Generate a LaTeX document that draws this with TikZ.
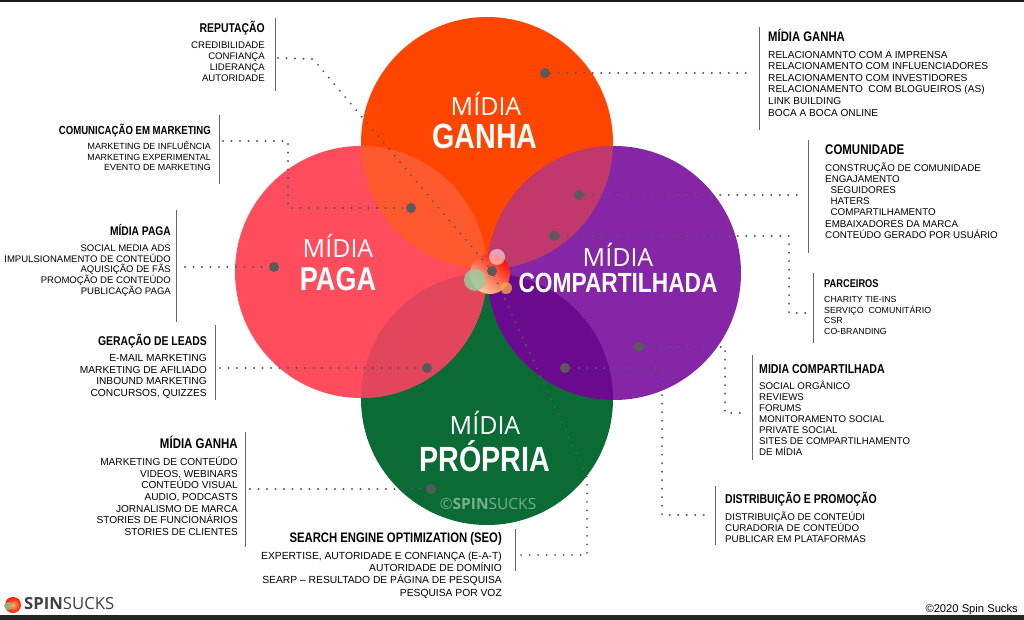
\documentclass[tikz,border=0pt]{standalone}
\usepackage{fontspec}
\setmainfont{Liberation Sans}
\newfontfamily\headfont[FakeStretch=0.82]{Liberation Sans}
\newfontfamily\bigfont{Open Sans}
\usepackage{tikz}
\usetikzlibrary{calc}
\definecolor{ganhacol}{HTML}{FF4500}
\definecolor{pagacol}{HTML}{FF4D5E}
\definecolor{compcol}{HTML}{8526A6}
\definecolor{propcol}{HTML}{0B6B35}
\definecolor{dotcol}{HTML}{5A5A5A}
\definecolor{gapacol}{HTML}{FF5A2D}
\definecolor{ppcol}{HTML}{E2465C}
\definecolor{gccol}{HTML}{C1386C}
\definecolor{cpcol}{HTML}{6A0A8E}
\newcommand{\leader}[1]{\draw[dotline] #1;}
\newcommand{\sidebar}[2]{\draw[barline] (#1) -- (#2);}
\newcommand{\hd}[2]{{\headfont\bfseries\fontsize{#1}{#1}\selectfont #2}}
\tikzset{
	dotline/.style={line width=2.1pt,line cap=round,dotcol,dash pattern=on 0pt off 8.5pt},
	barline/.style={line width=1pt,gray!80!black},
	hub/.style={circle,fill=dotcol,inner sep=0pt,minimum size=10pt},
	lefttext/.style 2 args={anchor=north east,align=right,inner sep=0pt,font=\fontsize{#1}{#2}\selectfont},
	righttext/.style 2 args={anchor=north west,align=left,inner sep=0pt,font=\fontsize{#1}{#2}\selectfont},
	thin word/.style={white,font=\bigfont\fontsize{25}{25}\selectfont},
	fat word/.style={white,font=\headfont\bfseries\fontsize{#1}{#1}\selectfont}
}
\begin{document}
\begin{tikzpicture}[x=1pt,y=-1pt]
	\useasboundingbox (0,0) rectangle (1024,620);
	\fill[white] (0,0) rectangle (1024,620);
	\fill[black!90] (0,0) rectangle (1024,2);
	\fill[black!85] (0,615) rectangle (1024,620);
	% circles
	\fill[propcol] (487,399) circle (126);
	\fill[ganhacol] (487,143) circle (126);
	\fill[pagacol] (361,272) circle (126);
	\fill[compcol] (614,273) circle (127);
	\begin{scope}
		\clip (361,272) circle (126);
		\fill[gapacol] (487,143) circle (126);
		\fill[ppcol] (487,399) circle (126);
	\end{scope}
	\begin{scope}
		\clip (614,273) circle (127);
		\fill[gccol] (487,143) circle (126);
		\fill[cpcol] (487,399) circle (126);
	\end{scope}
	% middle
	\shade[top color=red!90!orange,bottom color=orange!35!white,shading angle=-40] (490,274) circle (20);
	\fill[white,opacity=.55] (497,257) circle (8);
	\fill[orange!70!white,opacity=.8] (506,288) circle (6);
	\fill[green!30!gray!60!white,opacity=.85] (475,280) circle (11);
	% hubs
	\node[hub](hubrep) at (492,271) {};
	\node[hub](hubganha) at (545,73) {};
	\node[hub](hubcom) at (411,208) {};
	\node[hub](hubpaga) at (274,267) {};
	\node[hub](hubleads) at (427,368) {};
	\node[hub](hubprop) at (431,489) {};
	\node[hub](hubcomu) at (579,195) {};
	\node[hub](hubparc) at (554,236) {};
	\node[hub](hubmc) at (639,347) {};
	\node[hub](hubdist) at (565,368) {};
	% leaders
	\coordinate (rep) at (278,58);
	\coordinate (com) at (223,141);
	\coordinate (paga) at (185,267);
	\coordinate (leads) at (220,368);
	\coordinate (prop) at (250,489);
	\coordinate (seo) at (520,555);
	\coordinate (ganha) at (752,73);
	\coordinate (comu) at (802,195);
	\coordinate (parc) at (809,313);
	\coordinate (mc) at (748,413);
	\coordinate (dist) at (706,515);
	\leader{(rep) -- (313,59) -- (hubrep)}
	\leader{(com) -- (288,141) -- (288,208) -- (hubcom)}
	\leader{(paga) -- (hubpaga)}
	\leader{(leads) -- (hubleads)}
	\leader{(prop) -- (hubprop)}
	\leader{(hubrep) -- (587,477) -- (587,555) -- (seo)}
	\leader{(hubganha) -- (ganha)}
	\leader{(hubcomu) -- (comu)}
	\leader{(hubparc) -- (789,236) -- (789,313) -- (parc)}
	\leader{(hubmc) -- (725,347) -- (725,413) -- (mc)}
	\leader{(hubdist) -- (662,368) -- (662,515) -- (dist)}
	% big words
	\node[thin word](w1) at (486,104) {MÍDIA};
	\node[fat word=35](w2) at (485,136) {GANHA};
	\node[thin word](w3) at (338,246) {MÍDIA};
	\node[fat word=33](w4) at (338,279) {PAGA};
	\node[thin word](w5) at (618,255) {MÍDIA};
	\node[fat word=27.7](w6) at (618,283) {COMPARTILHADA};
	\node[thin word](w7) at (485,423) {MÍDIA};
	\node[fat word=35](w8) at (485,456) {PRÓPRIA};
	\node[propcol!55!white,font=\bigfont\fontsize{15.5}{15.5}\selectfont](w9) at (488,504) {©\textbf{SPIN}SUCKS};
	% bars
	\sidebar{275,18}{275,91}
	\sidebar{219,115}{219,184}
	\sidebar{176,210}{176,322}
	\sidebar{215,325}{215,400}
	\sidebar{245,432}{245,547}
	\sidebar{515,529}{515,571}
	\sidebar{759,27}{759,130}
	\sidebar{808,140}{808,253}
	\sidebar{813,273}{813,343}
	\sidebar{752,355}{752,460}
	\sidebar{715,486}{715,545}
	% text left
	\node[lefttext={9.6}{11}](trep) at (265,20.5) {\hd{12.7}{REPUTAÇÃO}\\[5pt]CREDIBILIDADE\\CONFIANÇA\\LIDERANÇA\\AUTORIDADE};
	\node[lefttext={8.9}{10.2}](tcom) at (211,124) {\hd{11.7}{COMUNICAÇÃO EM MARKETING}\\[4pt]MARKETING DE INFLUÊNCIA\\MARKETING EXPERIMENTAL\\EVENTO DE MARKETING};
	\node[lefttext={9.55}{10.9}](tpaga) at (171,224) {\hd{12.5}{MÍDIA PAGA}\\[5pt]SOCIAL MEDIA ADS\\IMPULSIONAMENTO DE CONTEÚDO\\AQUISIÇÃO DE FÃS\\PROMOÇÃO DE CONTEÚDO\\PUBLICAÇÃO PAGA};
	\node[lefttext={10.2}{11.4}](tleads) at (207,334) {\hd{12.7}{GERAÇÃO DE LEADS}\\[5pt]E-MAIL MARKETING\\MARKETING DE AFILIADO\\INBOUND MARKETING\\CONCURSOS, QUIZZES};
	\node[lefttext={10.1}{11.7}](tprop) at (238,436) {\hd{14}{MÍDIA GANHA}\\[5pt]MARKETING DE CONTEÚDO\\VIDEOS, WEBINARS\\CONTEÚDO VISUAL\\AUDIO, PODCASTS\\JORNALISMO DE MARCA\\STORIES DE FUNCIONÁRIOS\\STORIES DE CLIENTES};
	\node[lefttext={10.3}{12.2}](tseo) at (502,532) {\hd{13.8}{SEARCH ENGINE OPTIMIZATION (SEO)}\\[5pt]EXPERTISE, AUTORIDADE E CONFIANÇA (E-A-T)\\AUTORIDADE DE DOMÍNIO\\SEARP -- RESULTADO DE PÁGINA DE PESQUISA\ \\PESQUISA POR VOZ};
	% text right
	\node[righttext={10.1}{11.6}](tganha) at (768,29) {\hd{13.8}{MÍDIA GANHA}\\[5pt]RELACIONAMNTO COM A IMPRENSA\\RELACIONAMENTO COM INFLUENCIADORES\\RELACIONAMENTO COM INVESTIDORES\\RELACIONAMENTO\ \ COM BLOGUEIROS (AS)\\LINK BUILDING\\BOCA A BOCA ONLINE};
	\node[righttext={9.8}{11.2}](tcomu) at (825,145) {\hd{14}{COMUNIDADE}\\[5pt]CONSTRUÇÃO DE COMUNIDADE\\ENGAJAMENTO\\\ \ SEGUIDORES\\\ \ HATERS\\\ \ COMPARTILHAMENTO\\EMBAIXADORES DA MARCA\\CONTEÚDO GERADO POR USUÁRIO};
	\node[righttext={8.8}{10.4}](tparc) at (824,279.5) {\hd{11.3}{PARCEIROS}\\[5pt]CHARITY TIE-INS\\SERVIÇO\ \ COMUNITÁRIO\\CSR\\CO-BRANDING};
	\node[righttext={9.7}{11}](tmc) at (759,364) {\hd{12.9}{MIDIA COMPARTILHADA}\\[5pt]SOCIAL ORGÂNICO\\REVIEWS\\FORUMS\\MONITORAMENTO SOCIAL\\PRIVATE SOCIAL\\SITES DE COMPARTILHAMENTO\\DE MÍDIA};
	\node[righttext={9.8}{11}](tdist) at (725,492) {\hd{12.8}{DISTRIBUIÇÃO E PROMOÇÃO}\\[5pt]DISTRIBUIÇÃO DE CONTEÚDI\\CURADORIA DE CONTEÚDO\\PUBLICAR EM PLATAFORMAS};
	% logo
	\shade[inner color=orange!60!white,outer color=red!85!orange] (13,605) circle (8);
	\fill[green!30!gray!70!white,opacity=.85] (8,606) circle (4);
	\node[anchor=west,inner sep=0pt,text=black!75,font=\bigfont\fontsize{16.7}{16.7}\selectfont](logo) at (24,604) {\textbf{SPIN}SUCKS};
	\node[anchor=east,inner sep=0pt,font=\fontsize{11.2}{11.2}\selectfont](copy) at (1018,610) {©2020 Spin Sucks};
\end{tikzpicture}
\end{document}
